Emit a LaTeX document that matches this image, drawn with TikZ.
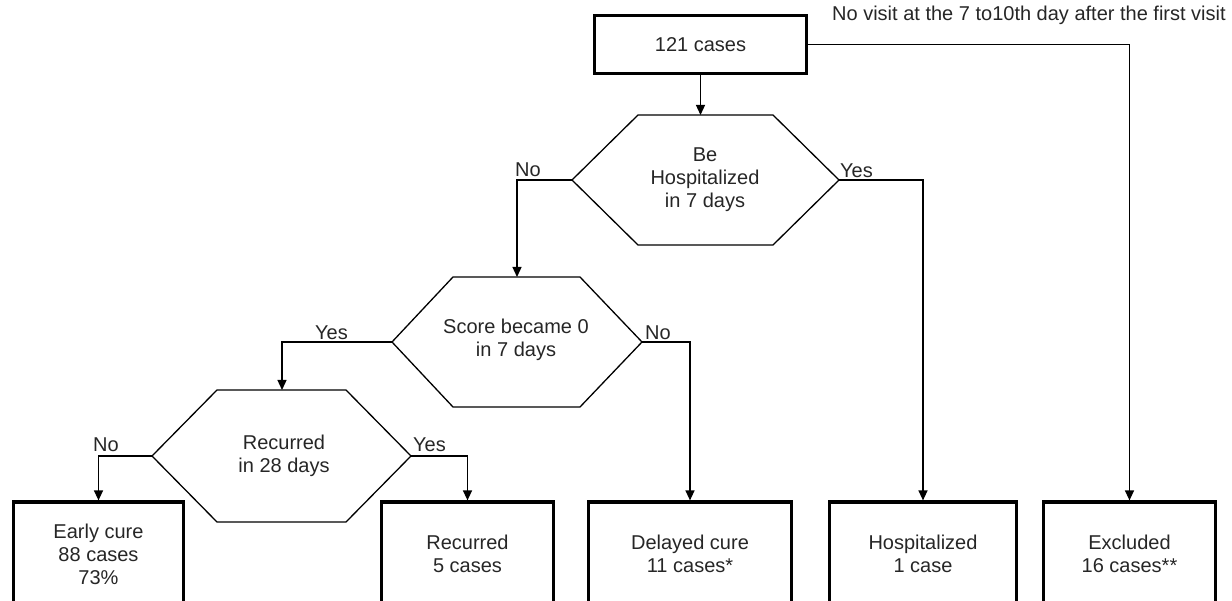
\documentclass[tikz,border=0pt]{standalone}
\usepackage{fontspec}
\setmainfont{Liberation Sans}
\usetikzlibrary{arrows.meta}
\begin{document}
\begin{tikzpicture}[x=1pt,y=-1pt,
  every node/.style={font=\fontsize{20}{23}\selectfont, text=black!85},
  box/.style={draw=black, line width=3.2pt, align=center, inner sep=0pt},
  hexlab/.style={align=center, inner sep=0pt},
  lbl/.style={anchor=base west, inner sep=0pt},
  conn/.style={line width=1.3pt, -{Triangle[width=9pt,length=10pt]}},
  hexline/.style={line width=1.3pt, line join=miter},
]
\useasboundingbox (0,0) rectangle (1232,601);

% top box
\node[box, minimum width=212pt, minimum height=58pt] (top) at (700.5,44.5) {121 cases};

% bottom boxes
\node[box, minimum width=170pt, minimum height=104pt] (early) at (98.5,554) {Early cure\\88 cases\\73\%};
\node[box, minimum width=172pt, minimum height=104pt] (recur) at (467.5,554) {Recurred\\5 cases};
\node[box, minimum width=203pt, minimum height=104pt] (delay) at (690,554) {Delayed cure\\11 cases*};
\node[box, minimum width=187pt, minimum height=104pt] (hosp) at (923,554) {Hospitalized\\1 case};
\node[box, minimum width=172pt, minimum height=104pt] (excl) at (1129.5,554) {Excluded\\16 cases**};

% hexagon 1
\coordinate (h1w) at (572,180);
\coordinate (h1e) at (839,180);
\coordinate (h1n) at (703,115);
\draw[hexline] (h1w) -- (638,115) -- (773,115) -- (h1e) -- (773,245) -- (638,245) -- cycle;
\node[hexlab] (h1) at (705,180) {Be\\Hospitalized\\in 7 days};

% hexagon 2
\coordinate (h2w) at (392,342);
\coordinate (h2e) at (642,342);
\coordinate (h2n) at (517,277);
\draw[hexline] (h2w) -- (453,277) -- (580,277) -- (h2e) -- (580,407) -- (453,407) -- cycle;
\node[hexlab] (h2) at (516,340) {Score became 0\\in 7 days};

% hexagon 3
\coordinate (h3w) at (152,456);
\coordinate (h3e) at (411,456);
\coordinate (h3n) at (282,390);
\draw[hexline] (h3w) -- (217,390) -- (346,390) -- (h3e) -- (346,522) -- (217,522) -- cycle;
\node[hexlab] (h3) at (284,456) {Recurred\\in 28 days};

% connectors
\draw[conn] (top) -- (top |- h1n);
\draw[conn] (h1w) -| (h2n);
\draw[conn] (h1e) -| (hosp.north);
\draw[conn] (h2w) -| (h3n);
\draw[conn] (h2e) -| (delay.north);
\draw[conn] (h3w) -| (early.north);
\draw[conn] (h3e) -| (recur.north);
\draw[conn] (top.east) -| (excl.north);

% labels
\node[lbl] (l1) at (515,177) {No};
\node[lbl] (l2) at (840,178) {Yes};
\node[lbl] (l3) at (315,340) {Yes};
\node[lbl] (l4) at (645,340) {No};
\node[lbl] (l5) at (93,452) {No};
\node[lbl] (l6) at (413,452) {Yes};
\node[lbl] (nv) at (832,21) {No visit at the 7 to10th day after the first visit};
\end{tikzpicture}
\end{document}
